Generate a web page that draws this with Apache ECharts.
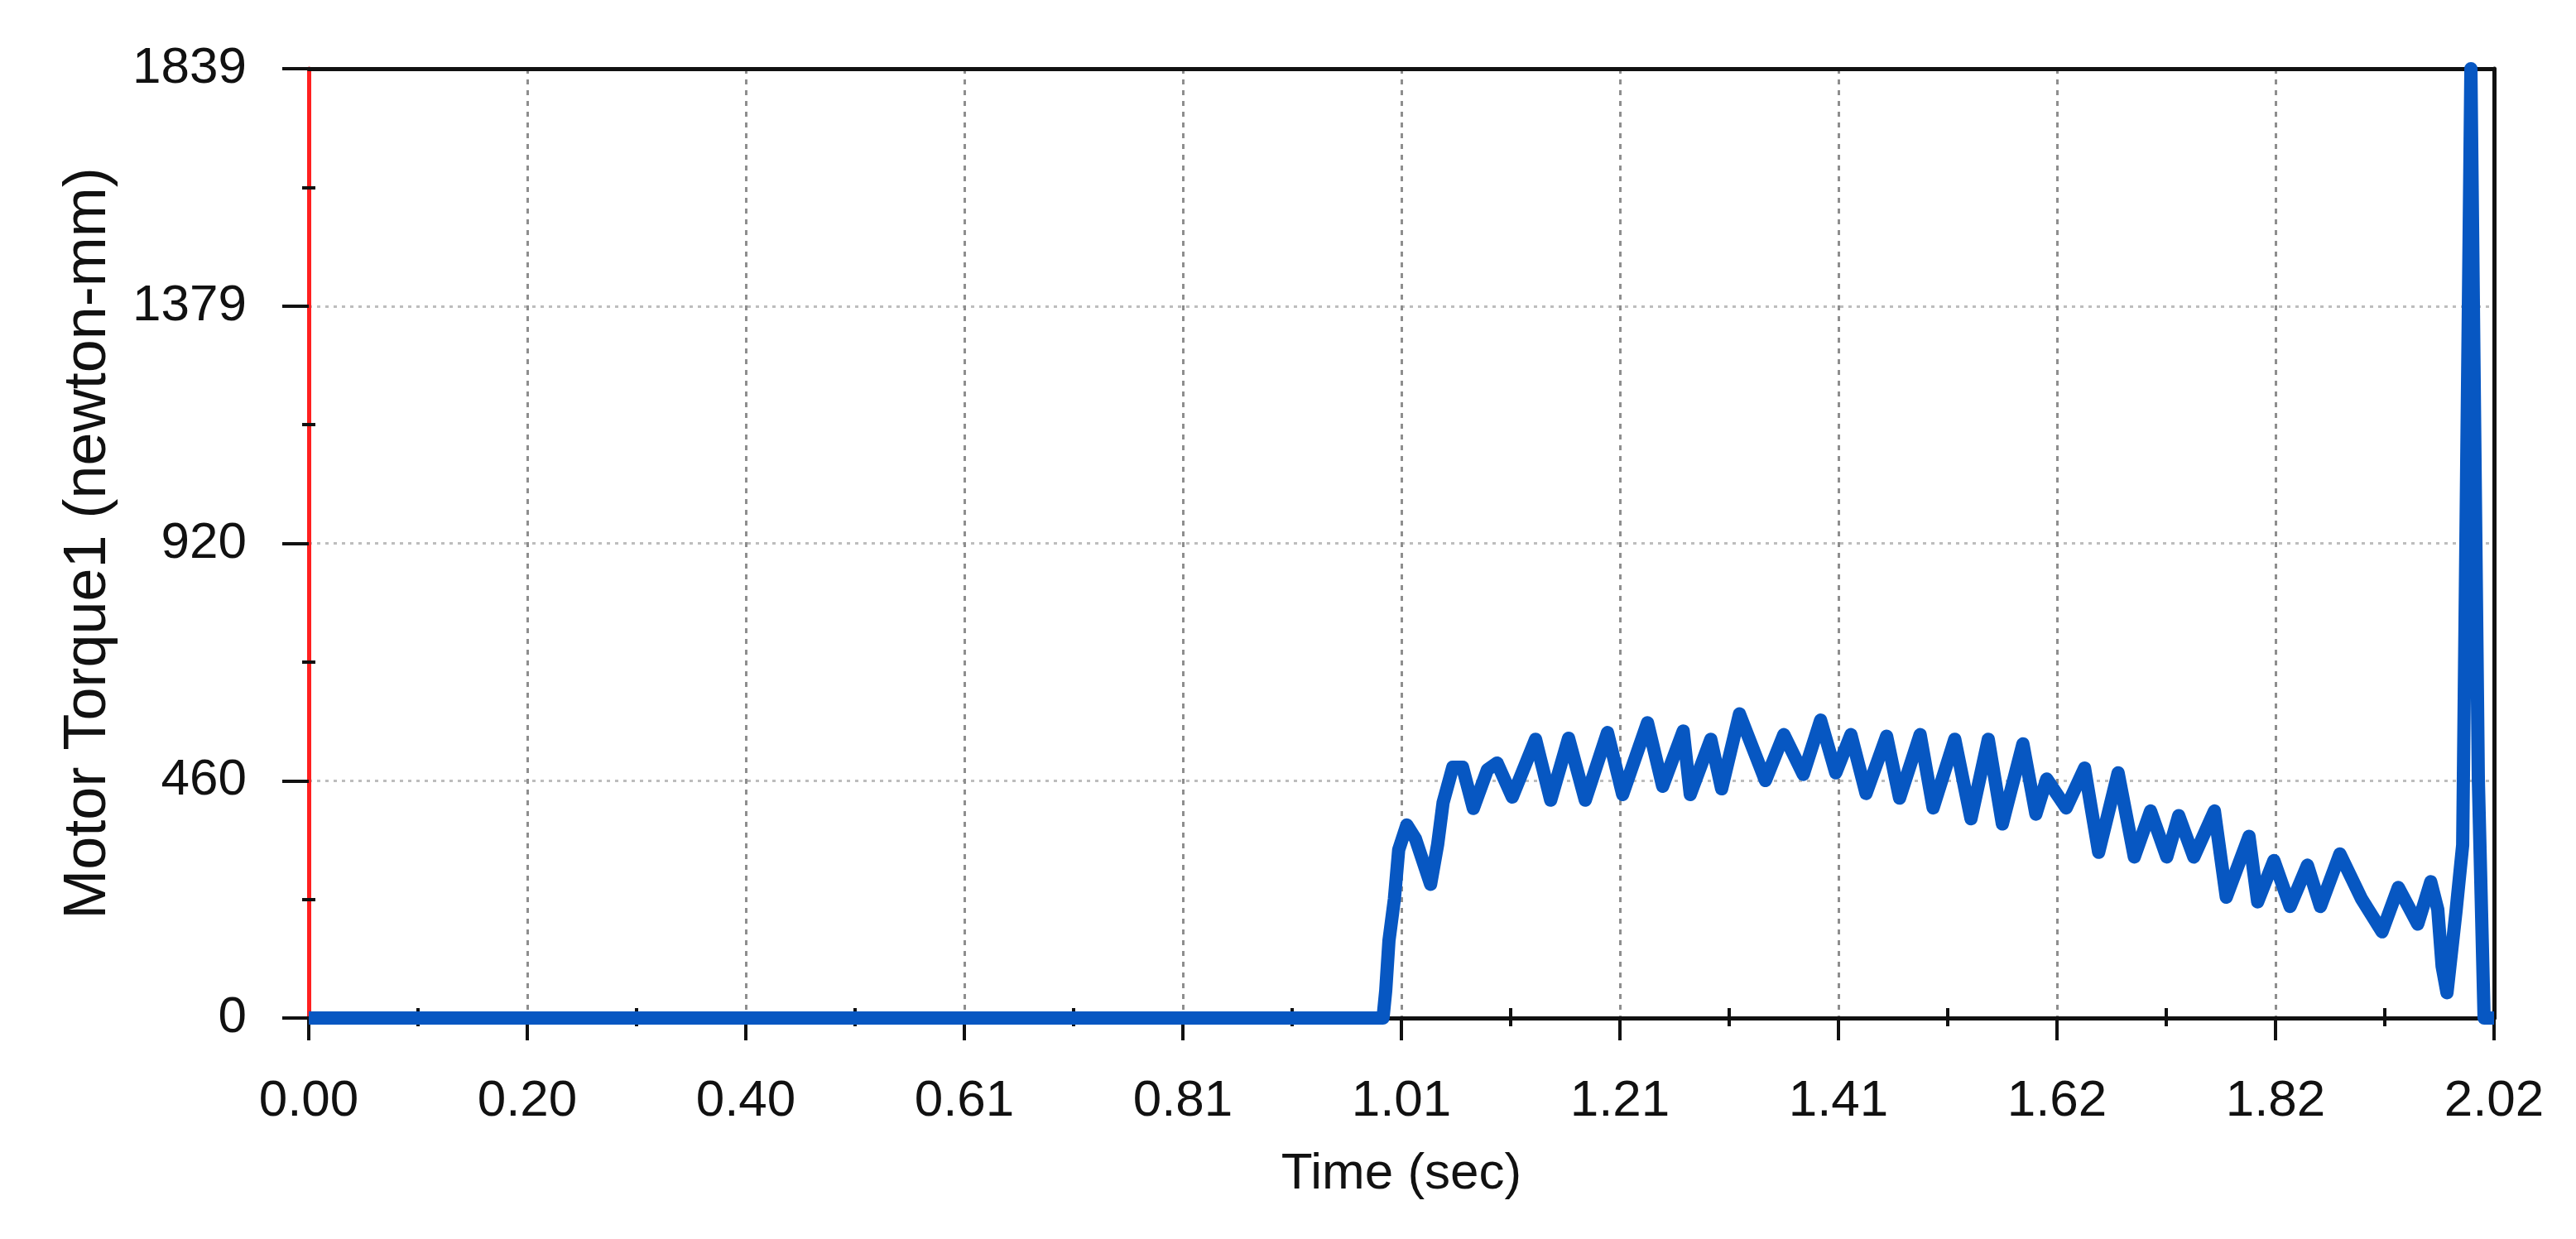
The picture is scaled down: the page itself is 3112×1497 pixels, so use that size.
<!DOCTYPE html>
<html>
<head>
<meta charset="utf-8">
<title>Motor Torque1</title>
<script src="https://cdn.jsdelivr.net/npm/echarts@6/dist/echarts.min.js"></script>
<style>
    html, body { margin: 0; padding: 0; background: #fff; }
    #chart { width: 3112px; height: 1497px; }
</style>
</head>
<body>
<div id="chart"></div>
<script>
// time axis (sec) and torque values (newton-mm)
var timeSec = [
    0.000, 0.9930, 0.9955, 0.9985, 1.0035, 1.0075, 1.0150, 1.0230, 1.0370, 1.0435,
    1.0485, 1.0575, 1.0665, 1.0765, 1.0895, 1.0985, 1.1125, 1.1340, 1.1480, 1.1645,
    1.1800, 1.2005, 1.2145, 1.2375, 1.2515, 1.2705, 1.2770, 1.2960, 1.3060, 1.3225,
    1.3465, 1.3635, 1.3815, 1.3975, 1.4115, 1.4255, 1.4395, 1.4585, 1.4705, 1.4895,
    1.5015, 1.5215, 1.5365, 1.5525, 1.5655, 1.5845, 1.5965, 1.6065, 1.6245, 1.6415,
    1.6545, 1.6725, 1.6875, 1.7025, 1.7175, 1.7285, 1.7425, 1.7615, 1.7725, 1.7935,
    1.8015, 1.8165, 1.8315, 1.8475, 1.8595, 1.8775, 1.8975, 1.9165, 1.9315, 1.9495,
    1.9615, 1.9680, 1.9720, 1.9765, 1.9850, 1.9910, 1.9986, 2.0009, 2.0055, 2.0108,
    2.0200
];
var torque = [
    0, 0, 53, 150, 230, 326, 374, 347, 259, 336,
    417, 486, 486, 406, 481, 494, 428, 540, 422, 542,
    422, 553, 433, 572, 449, 556, 433, 540, 444, 589,
    460, 549, 472, 577, 475, 549, 435, 546, 426, 549,
    407, 540, 386, 540, 376, 531, 395, 463, 407, 484,
    321, 475, 312, 401, 312, 392, 312, 401, 234, 352,
    225, 305, 216, 296, 216, 318, 231, 167, 253, 182,
    264, 210, 100, 49, 210, 335, 1839, 1379, 460, 0,
    0
];

var xMax = 2.02;
var xStep = 0.202;
var yMax = 1839;
var yStep = 459.75;

var seriesData = [];
for (var i = 0; i < timeSec.length; i++) {
    seriesData.push([timeSec[i], torque[i]]);
}

var fontName = "Liberation Sans";
var ink = "#111111";
var chart = echarts.init(document.getElementById("chart"));

// bare axis used only for a line (frame sides) or for the inner half of minor ticks
function bareAxis(position, showLine, minorLen, max, step) {
    return {
        type: "value",
        min: 0, max: max, interval: step,
        position: position, offset: 0,
        axisLine: { show: showLine, onZero: false, lineStyle: { color: ink, width: 5 } },
        axisTick: { show: false, inside: true },
        minorTick: { show: minorLen > 0, splitNumber: 2, length: minorLen, lineStyle: { color: ink, width: 4 } },
        axisLabel: { show: false },
        splitLine: { show: false }
    };
}

var option = {
    backgroundColor: "#ffffff",
    animation: false,
    grid: {
        left: 373, right: 99, top: 83, bottom: 267,
        containLabel: false,
        outerBoundsMode: "none"
    },
    xAxis: [{
        type: "value",
        min: 0, max: xMax, interval: xStep,
        position: "bottom",
        name: "Time (sec)",
        nameLocation: "middle",
        nameGap: 158,
        nameTextStyle: { fontFamily: fontName, fontSize: 62, color: ink },
        axisLine: { show: true, onZero: false, lineStyle: { color: ink, width: 5 } },
        axisTick: { show: true, length: 27, lineStyle: { color: ink, width: 4 } },
        minorTick: { show: true, splitNumber: 2, length: 10, lineStyle: { color: ink, width: 4 } },
        axisLabel: {
            margin: 70, fontFamily: fontName, fontSize: 62, color: ink,
            formatter: function (v) { return v.toFixed(2); }
        },
        splitLine: {
            show: true, showMinLine: false, showMaxLine: false,
            lineStyle: { color: "#8e8e8e", width: 3, type: [6, 7] }
        }
    },
        bareAxis("bottom", false, 12, xMax, xStep),
        bareAxis("top", true, 0, xMax, xStep)
    ],
    yAxis: [{
        type: "value",
        min: 0, max: yMax, interval: yStep,
        position: "left",
        name: "Motor Torque1 (newton-mm)",
        nameLocation: "middle",
        nameGap: 230,
        nameTextStyle: { fontFamily: fontName, fontSize: 72, color: ink },
        axisLine: { show: true, onZero: false, lineStyle: { color: "#ff2020", width: 5 } },
        axisTick: { show: true, length: 32, lineStyle: { color: ink, width: 4 } },
        minorTick: { show: true, splitNumber: 2, length: 8, lineStyle: { color: ink, width: 4 } },
        axisLabel: {
            margin: 75, fontFamily: fontName, fontSize: 62, color: ink,
            formatter: function (v) { return String(Math.round(v)); }
        },
        splitLine: {
            show: true, showMinLine: false, showMaxLine: false,
            lineStyle: { color: "#bdbdbd", width: 3, type: [4, 6] }
        }
    },
        bareAxis("left", false, 8, yMax, yStep),
        bareAxis("right", true, 0, yMax, yStep)
    ],
    series: [{
        name: "Motor Torque1",
        type: "line",
        xAxisIndex: 0,
        yAxisIndex: 0,
        data: seriesData,
        showSymbol: false,
        symbol: "none",
        clip: false,
        z: 5,
        lineStyle: { color: "#0757c2", width: 16, join: "round" }
    }]
};

chart.setOption(option);
</script>
</body>
</html>
